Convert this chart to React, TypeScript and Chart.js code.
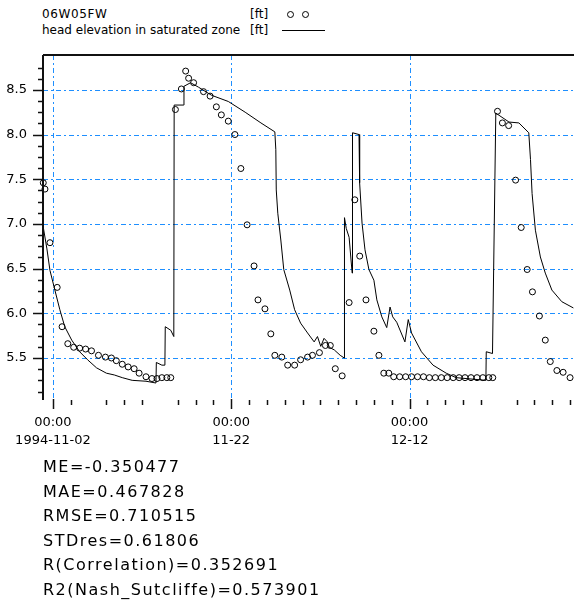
import React, { useEffect, useRef } from 'react';
import { Chart, registerables } from 'chart.js';

Chart.register(...registerables);

// ---- legend / titles ----
const legendNames = ['06W05FW', 'head elevation in saturated zone'];
const legendUnit = '[ft]';

// ---- axis ticks ----
const xMajorDays = [0, 20, 40];
const xTimeLabels = ['00:00', '00:00', '00:00'];
const xDateLabels = ['1994-11-02', '11-22', '12-12'];
const xMinorDays = [2, 6, 8, 10, 14, 16, 18, 22, 24, 26, 28, 30, 32, 34, 36, 38, 42, 44, 46, 48, 52, 54, 56, 58];
const yMajorTicks = [5.5, 6.0, 6.5, 7.0, 7.5, 8.0, 8.5];
const yMinorTicks = [5.125, 5.25, 5.375, 5.625, 5.75, 5.875, 6.125, 6.25, 6.375, 6.625, 6.75, 6.875, 7.125, 7.25, 7.375, 7.625, 7.75, 7.875, 8.125, 8.25, 8.375, 8.625, 8.75];

// ---- observed (circles), x = days since 1994-11-02 00:00 ----
const obsDays = [-1.08, -0.89, -0.33, 0.48, 1.03, 1.67, 2.33, 3.0, 3.67, 4.33, 5.11, 5.89, 6.56, 7.11, 7.78, 8.44, 9.11, 9.67, 10.44, 11.11, 11.67, 12.22, 12.78, 13.22, 13.74, 14.41, 14.89, 15.22, 15.78, 16.89, 17.63, 18.33, 18.89, 19.67, 20.41, 21.08, 21.78, 22.56, 23.0, 23.78, 24.44, 24.89, 25.67, 26.33, 27.11, 27.78, 28.56, 29.11, 29.89, 30.56, 31.11, 31.67, 32.44, 33.22, 33.86, 34.41, 35.11, 36.0, 36.56, 37.11, 37.67, 38.22, 38.89, 39.56, 40.22, 40.89, 41.56, 42.22, 42.89, 43.56, 44.22, 44.89, 45.56, 46.22, 46.89, 47.56, 48.22, 48.89, 49.33, 49.86, 50.41, 51.11, 51.89, 52.52, 53.19, 53.78, 54.56, 55.22, 55.78, 56.52, 57.22, 58.0];
const obsValues = [7.46, 7.39, 6.79, 6.29, 5.85, 5.66, 5.62, 5.61, 5.60, 5.58, 5.53, 5.51, 5.50, 5.47, 5.43, 5.40, 5.38, 5.33, 5.29, 5.27, 5.27, 5.28, 5.28, 5.28, 8.28, 8.51, 8.71, 8.63, 8.58, 8.48, 8.43, 8.31, 8.22, 8.15, 8.00, 7.62, 6.99, 6.53, 6.15, 6.05, 5.77, 5.53, 5.51, 5.42, 5.42, 5.48, 5.51, 5.53, 5.56, 5.64, 5.64, 5.38, 5.30, 6.12, 7.27, 6.64, 6.15, 5.80, 5.53, 5.33, 5.33, 5.29, 5.29, 5.29, 5.29, 5.29, 5.29, 5.28, 5.28, 5.28, 5.28, 5.28, 5.28, 5.28, 5.28, 5.28, 5.28, 5.28, 5.28, 8.26, 8.13, 8.10, 7.49, 6.96, 6.49, 6.24, 5.97, 5.70, 5.46, 5.36, 5.34, 5.28];

// ---- simulated head (line) ----
const simDays = [-1.11, -0.67, -0.33, 0.22, 0.78, 1.33, 2.11, 3.0, 3.89, 4.89, 6.0, 6.89, 7.78, 8.89, 10.44, 11.56, 11.6, 12.22, 12.56, 12.6, 13.22, 13.56, 13.6, 14.67, 14.7, 15.44, 16.33, 17.78, 19.67, 21.56, 23.33, 24.89, 25.0, 25.05, 25.22, 25.56, 25.89, 26.56, 27.11, 27.78, 28.56, 29.3, 29.67, 30.04, 30.41, 30.78, 31.0, 31.56, 32.22, 32.67, 32.7, 32.9, 33.22, 33.56, 33.6, 34.33, 34.4, 34.67, 35.0, 35.44, 36.0, 36.33, 36.89, 37.44, 37.81, 38.11, 38.56, 39.48, 39.85, 40.22, 41.33, 42.63, 44.11, 45.22, 48.56, 48.6, 49.3, 49.67, 51.15, 52.26, 53.37, 53.56, 53.74, 54.11, 54.67, 55.22, 55.96, 57.07, 58.37];
const simValues = [6.98, 6.72, 6.48, 6.26, 6.04, 5.85, 5.70, 5.57, 5.48, 5.39, 5.33, 5.31, 5.28, 5.25, 5.24, 5.22, 5.45, 5.42, 5.42, 5.85, 5.81, 5.74, 8.33, 8.33, 8.54, 8.58, 8.53, 8.44, 8.37, 8.25, 8.13, 8.03, 7.83, 7.38, 7.12, 6.82, 6.49, 6.26, 6.04, 5.89, 5.78, 5.68, 5.74, 5.63, 5.72, 5.68, 5.62, 5.59, 5.53, 5.50, 7.07, 6.95, 6.85, 6.45, 8.02, 8.00, 7.46, 7.01, 6.71, 6.49, 6.37, 6.15, 5.96, 5.84, 6.07, 5.96, 5.90, 5.68, 5.93, 5.78, 5.57, 5.42, 5.33, 5.28, 5.25, 5.57, 5.55, 8.24, 8.14, 8.13, 8.02, 7.72, 7.34, 6.93, 6.63, 6.45, 6.26, 6.13, 6.06];

// ---- statistics ----
const statsLines = [
  'ME=-0.350477',
  'MAE=0.467828',
  'RMSE=0.710515',
  'STDres=0.61806',
  'R(Correlation)=0.352691',
  'R2(Nash_Sutcliffe)=0.573901',
];

const X_MIN = -1.11;
const X_MAX = 58.44;
const Y_MIN = 5.03;
const Y_MAX = 8.89;

const decorPlugin = {
  id: 'decor',
  beforeDatasetsDraw(chart: any) {
    const { ctx, chartArea, scales } = chart;
    const { left, right, top, bottom } = chartArea;
    const x = scales.x;
    const y = scales.y;
    ctx.save();
    ctx.strokeStyle = '#1e8fff';
    ctx.lineWidth = 1;
    ctx.setLineDash([5, 3, 2, 3]);
    yMajorTicks.forEach((v) => {
      const py = Math.round(y.getPixelForValue(v)) + 0.5;
      ctx.beginPath();
      ctx.moveTo(left, py);
      ctx.lineTo(right, py);
      ctx.stroke();
    });
    xMajorDays.forEach((d) => {
      const px = Math.round(x.getPixelForValue(d)) + 0.5;
      ctx.beginPath();
      ctx.moveTo(px, top);
      ctx.lineTo(px, bottom - 2);
      ctx.stroke();
    });
    ctx.restore();
  },
  afterDraw(chart: any) {
    const { ctx, chartArea, scales } = chart;
    const { left, right, top, bottom } = chartArea;
    const x = scales.x;
    const y = scales.y;
    ctx.save();
    ctx.strokeStyle = '#111';
    ctx.setLineDash([]);
    ctx.lineWidth = 2;
    ctx.beginPath();
    ctx.moveTo(left, top);
    ctx.lineTo(right, top);
    ctx.moveTo(left, top);
    ctx.lineTo(left, bottom);
    ctx.stroke();
    // y ticks
    ctx.lineWidth = 1.5;
    yMajorTicks.forEach((v) => {
      const py = Math.round(y.getPixelForValue(v)) + 0.5;
      ctx.beginPath();
      ctx.moveTo(left - 10, py);
      ctx.lineTo(left, py);
      ctx.stroke();
    });
    yMinorTicks.forEach((v) => {
      const py = Math.round(y.getPixelForValue(v)) + 0.5;
      ctx.beginPath();
      ctx.moveTo(left - 5, py);
      ctx.lineTo(left, py);
      ctx.stroke();
    });
    // x ticks
    xMajorDays.forEach((d) => {
      const px = Math.round(x.getPixelForValue(d)) + 0.5;
      ctx.beginPath();
      ctx.moveTo(px, bottom - 1);
      ctx.lineTo(px, bottom + 9);
      ctx.stroke();
    });
    xMinorDays.forEach((d) => {
      const px = Math.round(x.getPixelForValue(d)) + 0.5;
      ctx.beginPath();
      ctx.moveTo(px, bottom);
      ctx.lineTo(px, bottom + 5);
      ctx.stroke();
    });
    ctx.restore();
  },
};

export default function App() {
  const canvasRef = useRef<HTMLCanvasElement | null>(null);

  useEffect(() => {
    if (!canvasRef.current) return;
    const obsData = obsDays.map((d, i) => ({ x: d, y: obsValues[i] }));
    const simData = simDays.map((d, i) => ({ x: d, y: simValues[i] }));
    const axisFont = { family: 'DejaVu Sans', size: 13, lineHeight: 1.385 };
    const chart = new Chart(canvasRef.current, {
      type: 'scatter',
      data: {
        datasets: [
          {
            label: legendNames[1],
            data: simData,
            showLine: true,
            borderColor: '#000',
            borderWidth: 1,
            pointRadius: 0,
            tension: 0,
            clip: false,
          } as any,
          {
            label: legendNames[0],
            data: obsData,
            showLine: false,
            pointRadius: 3,
            pointBorderWidth: 1,
            pointBorderColor: '#000',
            pointBackgroundColor: 'rgba(0,0,0,0)',
            clip: false,
          } as any,
        ],
      },
      options: {
        responsive: false,
        animation: false,
        events: [],
        layout: { padding: { top: 15, left: 0, right: 0, bottom: 0 } },
        plugins: { legend: { display: false }, tooltip: { enabled: false } },
        scales: {
          x: {
            type: 'linear',
            min: X_MIN,
            max: X_MAX,
            bounds: 'data',
            grid: { display: false, drawTicks: false },
            border: { display: false },
            afterBuildTicks: (s: any) => {
              s.ticks = xMajorDays.map((v) => ({ value: v }));
            },
            afterFit: (s: any) => {
              s.height = 60;
              s.paddingLeft = 0;
              s.paddingRight = 0;
            },
            ticks: {
              autoSkip: false,
              maxRotation: 0,
              padding: 14,
              color: '#000',
              font: axisFont,
              callback: (_v: any, i: number) => [xTimeLabels[i], xDateLabels[i]],
            },
          },
          y: {
            type: 'linear',
            min: Y_MIN,
            max: Y_MAX,
            bounds: 'data',
            grid: { display: false, drawTicks: false },
            border: { display: false },
            afterBuildTicks: (s: any) => {
              s.ticks = yMajorTicks.map((v) => ({ value: v }));
            },
            afterFit: (s: any) => {
              s.width = 43;
              s.paddingTop = 0;
              s.paddingBottom = 0;
            },
            ticks: {
              padding: 16,
              color: '#000',
              font: axisFont,
              callback: (v: any) => Number(v).toFixed(1),
            },
          },
        },
      } as any,
      plugins: [decorPlugin],
    });
    return () => chart.destroy();
  }, []);

  const legendFont: React.CSSProperties = {
    position: 'absolute',
    fontFamily: 'DejaVu Sans',
    fontSize: 12,
    lineHeight: '14px',
    color: '#000',
    whiteSpace: 'nowrap',
  };
  const circle = (left: number, top: number): React.CSSProperties => ({
    position: 'absolute',
    left,
    top,
    width: 5,
    height: 5,
    border: '1px solid #000',
    borderRadius: '50%',
  });

  return (
    <div style={{ position: 'absolute', left: 0, top: 0, width: 579, height: 604, overflow: 'hidden', background: '#fff' }}>
      <div style={{ ...legendFont, left: 42, top: 7, letterSpacing: '0.6px' }}>{legendNames[0]}</div>
      <div style={{ ...legendFont, left: 250, top: 7 }}>{legendUnit}</div>
      <div style={circle(287, 11)} />
      <div style={circle(302, 11)} />
      <div style={{ ...legendFont, left: 42, top: 23 }}>{legendNames[1]}</div>
      <div style={{ ...legendFont, left: 250, top: 23 }}>{legendUnit}</div>
      <div style={{ position: 'absolute', left: 282, top: 30, width: 43, height: 1, background: '#000' }} />
      <canvas ref={canvasRef} width={579} height={420} style={{ position: 'absolute', left: 0, top: 40, display: 'block' }} />
      <div
        style={{
          position: 'absolute',
          left: 43,
          top: 455,
          fontFamily: 'DejaVu Sans',
          fontSize: 16,
          lineHeight: '24.5px',
          letterSpacing: '1.5px',
          color: '#000',
          whiteSpace: 'nowrap',
        }}
      >
        {statsLines.map((s) => (
          <div key={s}>{s}</div>
        ))}
      </div>
    </div>
  );
}
